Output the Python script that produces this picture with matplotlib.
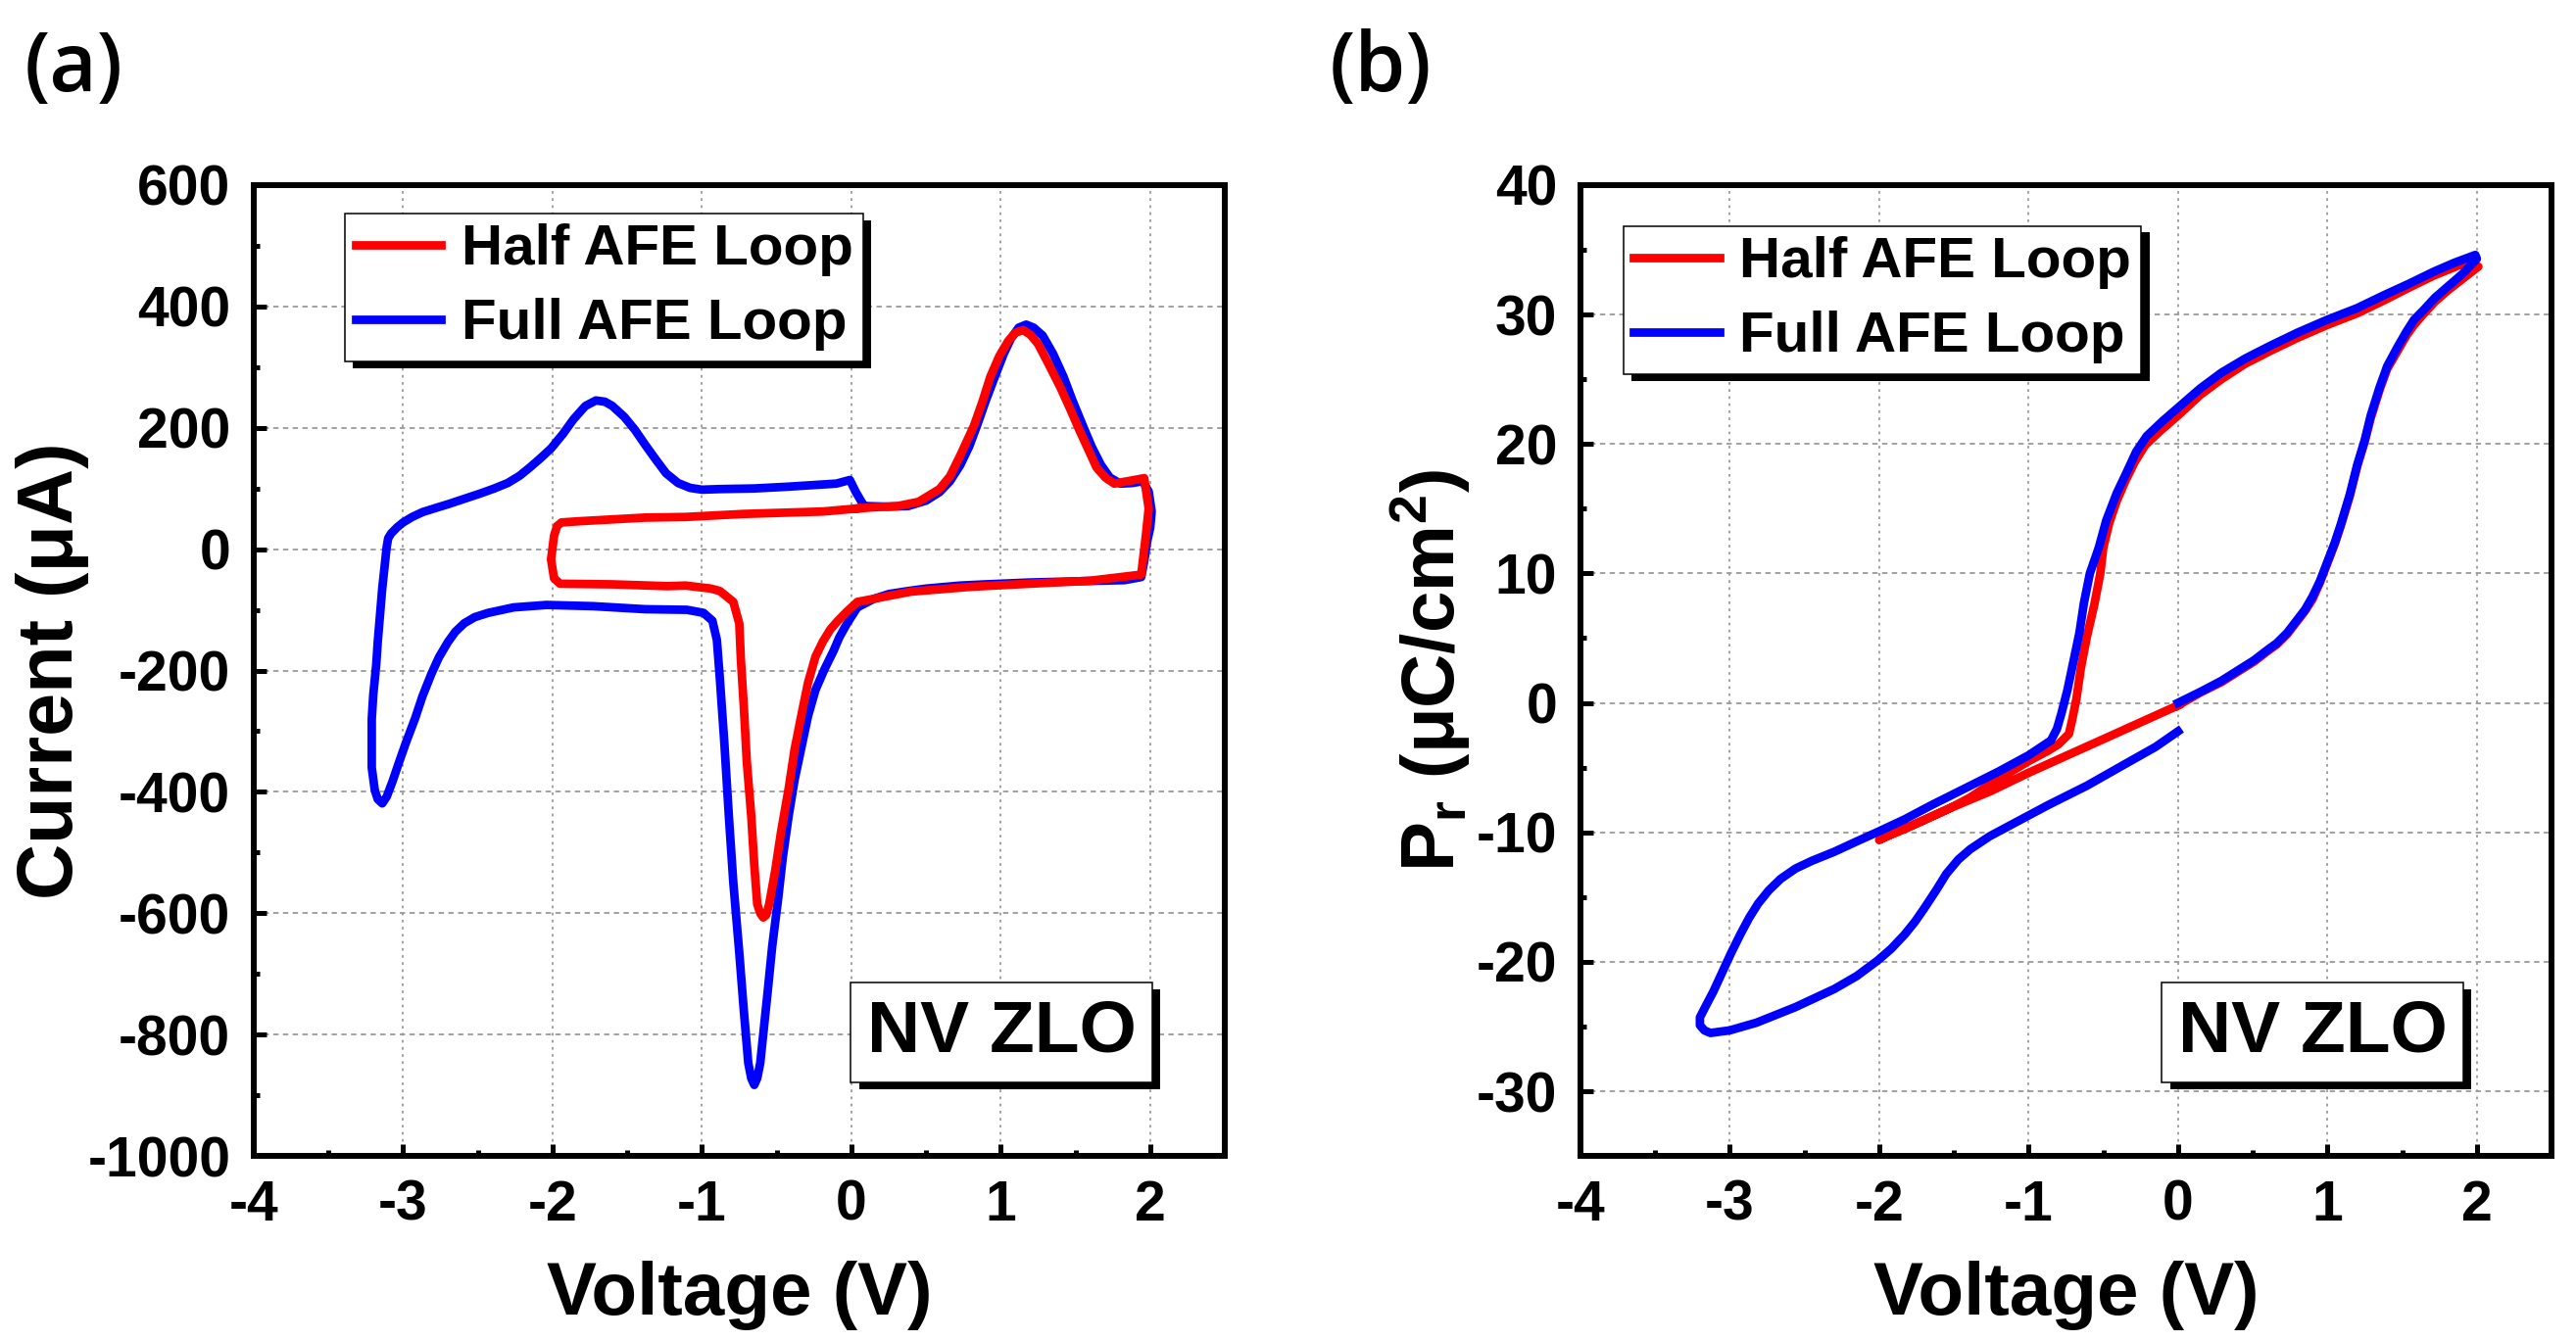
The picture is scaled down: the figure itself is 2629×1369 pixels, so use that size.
import matplotlib
matplotlib.use('Agg')
import matplotlib.pyplot as plt
import matplotlib.patheffects as pe
from matplotlib.ticker import MultipleLocator

# ---- data ----
# (a) current loops
full_a_v = [0.085, 0.25, 0.38, 0.50, 0.59, 0.66, 0.73, 0.79, 0.84, 0.90, 0.96, 1.02, 1.07, 1.12, 1.17,
            1.22, 1.28, 1.35, 1.42, 1.48, 1.55, 1.61, 1.67, 1.73, 1.80, 1.88, 1.95, 1.99, 2.01, 2.00,
            1.98, 1.96, 1.94,
            1.83, 1.5, 1.19, 0.9, 0.73, 0.5, 0.38, 0.25, 0.15, 0.04, -0.03, -0.08, -0.12, -0.18, -0.24,
            -0.29, -0.33, -0.38, -0.42, -0.46, -0.49, -0.53, -0.56, -0.59, -0.61, -0.63, -0.65, -0.67,
            -0.69, -0.72, -0.75, -0.79, -0.82, -0.85, -0.88, -0.90, -0.93, -0.99, -1.1, -1.38, -1.73,
            -2.04, -2.26, -2.43, -2.52, -2.59, -2.65, -2.70, -2.76, -2.81, -2.87, -2.92, -2.98, -3.03,
            -3.07, -3.11, -3.14, -3.17, -3.19, -3.21, -3.21, -3.21, -3.20, -3.18, -3.17, -3.155, -3.14,
            -3.125, -3.11, -3.10, -3.08,
            -3.04, -3.00, -2.94, -2.87, -2.78, -2.70, -2.59, -2.48, -2.39, -2.30, -2.22, -2.15, -2.08,
            -2.01, -1.93, -1.86, -1.78, -1.71, -1.65, -1.60, -1.52, -1.45, -1.38, -1.31, -1.24, -1.16,
            -1.08, -1.0, -0.88, -0.65, -0.42, -0.10, -0.01, 0.03, 0.085]
full_a_i = [71, 70, 71, 80, 94, 112, 139, 170, 203, 245, 284, 322, 348, 365, 370,
            365, 352, 322, 284, 245, 203, 168, 139, 118, 108, 109, 112, 95, 62, 35,
            13, -20, -46,
            -51, -53, -55, -58, -60, -65, -69, -74, -82, -96, -123, -145, -168, -198, -232,
            -275, -322, -380, -440, -510, -576, -655, -729, -800, -847, -872, -883, -872,
            -847, -760, -666, -550, -440, -320, -214, -150, -118, -105, -100, -99, -94,
            -92, -96, -105, -112, -122, -136, -153, -178, -205, -242, -279, -318, -353,
            -382, -408, -419, -412, -397, -360, -327, -280, -240, -190, -153, -110, -65,
            -30, 4, 18, 26,
            36, 44, 53, 61, 68, 74, 83, 92, 100, 109, 121, 135, 150,
            166, 190, 214, 236, 245, 243, 236, 218, 197, 172, 148, 125, 109,
            101, 98, 99, 100, 103, 108, 114, 94, 71]

half_a_v = [0.04, 0.15, 0.31, 0.45, 0.59, 0.66, 0.73, 0.82, 0.88, 0.93, 0.99, 1.05, 1.10, 1.15, 1.20,
            1.25, 1.32, 1.40, 1.47, 1.53, 1.59, 1.64, 1.70, 1.76, 1.85, 1.96, 1.99, 1.97, 1.94,
            1.6, 1.19, 0.8, 0.4, 0.04, -0.03, -0.09, -0.14, -0.19, -0.24, -0.29, -0.33, -0.38, -0.42,
            -0.47, -0.51, -0.55, -0.57, -0.59, -0.61, -0.63, -0.65, -0.67, -0.70, -0.72, -0.74, -0.75,
            -0.79, -0.88, -0.94, -1.11, -1.23, -1.60, -1.95, -1.99, -2.01, -1.99, -1.97, -1.94,
            -1.82, -1.38, -1.11, -0.72, -0.19, 0.04]
half_a_i = [67, 69, 71, 78, 99, 120, 155, 203, 245, 284, 318, 343, 357, 361, 353,
            338, 305, 266, 228, 194, 162, 135, 118, 108, 112, 117, 67, 20, -42,
            -52, -57, -62, -70, -87, -103, -118, -132, -152, -177, -220, -268, -330, -395,
            -465, -530, -585, -603, -607, -600, -585, -520, -440, -350, -259, -180, -123,
            -87, -69, -65, -60, -61, -58, -57, -48, -17, 22, 38, 44,
            46, 52, 53, 58, 62, 67]

# (b) polarization loops
full_b_v = [0.0, 0.15, 0.29, 0.40, 0.51, 0.60, 0.66, 0.73, 0.79, 0.85, 0.90, 0.95, 1.0, 1.05, 1.09,
            1.15, 1.20, 1.25, 1.29, 1.35, 1.40, 1.47, 1.53, 1.58, 1.64, 1.72, 1.81, 1.91, 2.0, 1.99,
            1.85, 1.71, 1.55, 1.38, 1.2, 1.0, 0.8, 0.62, 0.45, 0.29, 0.15, 0.0, -0.1, -0.21, -0.28,
            -0.34, -0.41, -0.48, -0.53, -0.59, -0.63, -0.66, -0.70, -0.74, -0.78, -0.81, -0.85, -1.0,
            -1.2, -1.39, -1.65, -1.83, -2.01, -2.15, -2.30, -2.45, -2.56, -2.66, -2.74, -2.81, -2.87,
            -2.93, -2.99, -3.05, -3.11, -3.16, -3.20, -3.20, -3.17, -3.13,
            -3.0, -2.82, -2.56, -2.30, -2.15, -2.01, -1.92, -1.83, -1.76, -1.70, -1.62, -1.55, -1.47,
            -1.39, -1.26, -1.13, -1.0, -0.87, -0.61, -0.35, -0.15, 0.0]
full_b_p = [0.0, 0.85, 1.7, 2.5, 3.3, 4.1, 4.6, 5.4, 6.3, 7.2, 8.2, 9.4, 10.9, 12.4, 13.8,
            16.1, 18.4, 20.3, 22.2, 24.4, 26.0, 27.5, 28.7, 29.6, 30.3, 31.3, 32.2, 33.2, 34.3, 34.6,
            34.0, 33.3, 32.4, 31.5, 30.5, 29.6, 28.6, 27.6, 26.6, 25.5, 24.3, 22.8, 21.8, 20.6, 19.4,
            17.9, 16.2, 14.1, 12.0, 10.0, 7.7, 5.4, 3.2, 1.0, -0.8, -2.0, -2.9, -4.05,
            -5.3, -6.4, -7.9, -9.0, -9.97, -10.7, -11.5, -12.2, -12.8, -13.6, -14.5, -15.5, -16.6,
            -17.9, -19.3, -20.8, -22.3, -23.4, -24.3, -24.9, -25.3, -25.5,
            -25.3, -24.7, -23.5, -22.1, -21.1, -19.9, -19.0, -17.9, -16.9, -15.9, -14.5, -13.2, -12.1,
            -11.3, -10.3, -9.5, -8.7, -7.9, -6.4, -4.7, -3.4, -2.2]

half_b_v = [0.0, 0.15, 0.29, 0.40, 0.51, 0.60, 0.66, 0.73, 0.79, 0.85, 0.90, 0.95, 1.0, 1.05, 1.09,
            1.15, 1.20, 1.25, 1.29, 1.35, 1.40, 1.47, 1.53, 1.58, 1.64, 1.72, 1.81, 1.91, 2.01, 1.95,
            1.88, 1.71, 1.55, 1.38, 1.2, 1.0, 0.8, 0.62, 0.45, 0.29, 0.15, 0.0, -0.12, -0.22, -0.29,
            -0.35, -0.41, -0.46, -0.50, -0.52, -0.56, -0.61, -0.65, -0.68, -0.71, -0.73, -0.80, -0.87,
            -1.0, -1.13, -1.26, -1.39, -1.52, -1.65, -1.82, -1.99, -2.0,
            -1.91, -1.75, -1.52, -1.25, -1.0, -0.75, -0.48, -0.25, 0.0]
half_b_p = [-0.2, 0.8, 1.6, 2.4, 3.2, 4.0, 4.5, 5.3, 6.2, 7.1, 8.0, 9.3, 10.8, 12.3, 13.7,
            16.0, 18.3, 20.2, 22.0, 24.2, 25.8, 27.2, 28.4, 29.2, 30.0, 31.0, 31.9, 32.8, 33.7, 33.9,
            33.8, 33.0, 32.1, 31.1, 30.1, 29.2, 28.2, 27.2, 26.2, 25.0, 23.8, 22.2, 21.0, 19.9, 18.6,
            17.2, 15.6, 13.9, 12.0, 10.0, 7.6, 5.1, 2.7, 0.3, -1.4, -2.4, -3.2, -3.7,
            -4.5, -5.4, -6.3, -7.3, -8.1, -8.8, -9.7, -10.5, -10.6,
            -10.1, -9.3, -8.1, -6.8, -5.4, -4.1, -2.7, -1.5, -0.2]

series_names = ['Half AFE Loop', 'Full AFE Loop']

plt.rcParams['font.family'] = ['Liberation Sans', 'DejaVu Sans']
plt.rcParams['font.weight'] = 'bold'
plt.rcParams['axes.labelweight'] = 'bold'
plt.rcParams['axes.unicode_minus'] = False
plt.rcParams['mathtext.fontset'] = 'custom'
plt.rcParams['mathtext.rm'] = 'Liberation Sans:bold'
plt.rcParams['mathtext.bf'] = 'Liberation Sans:bold'
plt.rcParams['mathtext.it'] = 'Liberation Sans:bold'

RED = '#ff0000'
BLUE = '#0000ff'
LW = 6.3

fig = plt.figure(figsize=(26.29, 13.69), dpi=100)
ax_a = fig.add_axes([0.0985, 0.138, 0.377, 0.724])
ax_b = fig.add_axes([0.6135, 0.138, 0.377, 0.724])


def shadow_fx():
    return [pe.SimplePatchShadow(offset=(6, -5), shadow_rgbFace='k', alpha=1), pe.Normal()]


def style_axes(ax, ymajor, yminor):
    for s in ax.spines.values():
        s.set_linewidth(4.3)
    ax.xaxis.set_major_locator(MultipleLocator(1))
    ax.xaxis.set_minor_locator(MultipleLocator(0.5))
    ax.yaxis.set_major_locator(MultipleLocator(ymajor))
    ax.yaxis.set_minor_locator(MultipleLocator(yminor))
    ax.tick_params(which='both', direction='in', top=False, right=False, width=3.6)
    ax.tick_params(which='major', length=9, labelsize=41)
    ax.tick_params(which='minor', length=4.5)
    ax.tick_params(axis='x', pad=17)
    ax.tick_params(axis='y', pad=17)
    ax.xaxis.grid(True, which='major', color='#9a9a9a', lw=1.3, ls=(0, (1.5, 2.5)))
    ax.yaxis.grid(True, which='major', color='#9a9a9a', lw=1.3, ls=(0, (3, 2.5)))
    ax.set_axisbelow(True)
    ax.set_xlim(-4, 2.5)
    ax.set_xlabel('Voltage (V)', fontsize=55, labelpad=21)


def add_legend(ax, anchor, handles):
    leg = ax.legend(handles, series_names, loc='upper left', bbox_to_anchor=anchor,
                    borderaxespad=0, fontsize=42, handlelength=1.5, handletextpad=0.35,
                    borderpad=0.18, labelspacing=0.38, fancybox=False, framealpha=1,
                    edgecolor='black')
    leg.get_frame().set_linewidth(1.1)
    leg.get_frame().set_path_effects(shadow_fx())
    for h in leg.get_lines():
        h.set_linewidth(LW)


def add_tag(ax, x):
    t = ax.text(x, 0.127, 'NV ZLO', transform=ax.transAxes, ha='center', va='center', fontsize=54,
                bbox=dict(boxstyle='square,pad=0.22', fc='white', ec='black', lw=1.1), zorder=6)
    t.get_bbox_patch().set_path_effects(shadow_fx())


# (a)
la_half, = ax_a.plot(half_a_v, half_a_i, color=RED, lw=LW, solid_joinstyle='round', zorder=3)
la_full, = ax_a.plot(full_a_v, full_a_i, color=BLUE, lw=LW, solid_joinstyle='round', zorder=2)
style_axes(ax_a, 200, 100)
ax_a.set_ylim(-1000, 600)
ax_a.set_ylabel('Current (μA)', fontsize=57, labelpad=-1)
add_legend(ax_a, (0.094, 0.971), [la_half, la_full])
add_tag(ax_a, 0.77)

# (b)
lb_half, = ax_b.plot(half_b_v, half_b_p, color=RED, lw=LW, solid_joinstyle='round', zorder=2)
lb_full, = ax_b.plot(full_b_v, full_b_p, color=BLUE, lw=LW, solid_joinstyle='round', zorder=3)
style_axes(ax_b, 10, 5)
ax_b.set_ylim(-35, 40)
ax_b.set_ylabel(r'P$_\mathrm{r}$ (μC/cm$^\mathrm{2}$)', fontsize=55, labelpad=3)
add_legend(ax_b, (0.044, 0.958), [lb_half, lb_full])
add_tag(ax_b, 0.754)

fig.text(0.0095, 0.948, '(a)', fontsize=60, fontfamily='Open Sans', fontweight='semibold',
         ha='left', va='center')
fig.text(0.516, 0.948, '(b)', fontsize=60, fontfamily='Open Sans', fontweight='semibold',
         ha='left', va='center')

fig.savefig('out.png', dpi=100)
